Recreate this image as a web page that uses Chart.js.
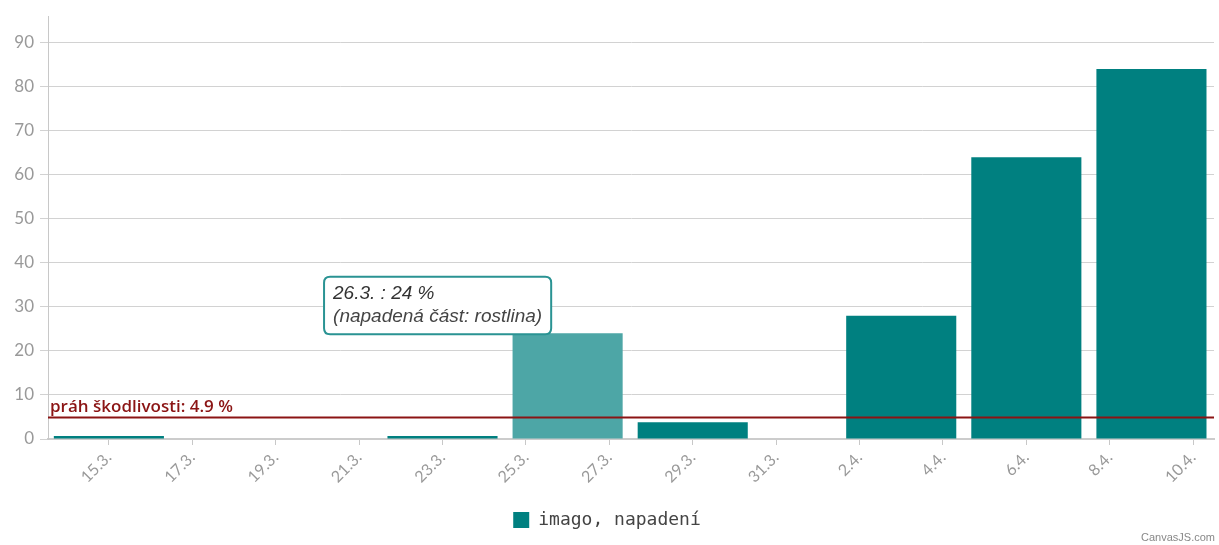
<!DOCTYPE html>
<html>
<head>
<meta charset="utf-8">
<script src="https://cdn.jsdelivr.net/npm/chart.js@4.4.0/dist/chart.umd.min.js"></script>
<style>
  html, body { margin: 0; padding: 0; background: #fff; }
  #wrap { position: relative; width: 1219px; height: 545px; }
  #credit { position: absolute; right: 4px; bottom: 2px; font: 11px "Liberation Sans", sans-serif; color: #888; }
</style>
</head>
<body>
<div id="wrap">
  <canvas id="chart" width="1219" height="545"></canvas>
  <div id="credit">CanvasJS.com</div>
</div>
<script>
// data
const dates = ['15.3.', '23.3.', '26.3.', '29.3.', '3.4.', '6.4.', '9.4.'];
const values = [0, 0, 24, 3.8, 28, 64, 84];
const tickLabels = ['15.3.', '17.3.', '19.3.', '21.3.', '23.3.', '25.3.', '27.3.',
  '29.3.', '31.3.', '2.4.', '4.4.', '6.4.', '8.4.', '10.4.'];
const seriesName = 'imago, napadení';
const threshold = 4.9;
const thresholdLabel = 'práh škodlivosti: 4.9 %';
const hoverIndex = 2; // bar shown with tooltip (26.3.)
const tooltipNote = '(napadená část: rostlina)';

const TEAL = '#008080';
const TEAL_HOVER = '#4da6a6';
const DARKRED = '#8b1414';

// day number counted from the first tick
function toDay(s) {
  const [d, m] = s.split('.').map(Number);
  return Math.round((Date.UTC(2021, m - 1, d) - Date.UTC(2021, 2, 15)) / 86400000);
}

const points = dates.map((d, i) => ({ x: toDay(d), y: values[i] }));
const tickDays = tickLabels.map(toDay);

// threshold line drawn over the bars
const thresholdPlugin = {
  id: 'threshold',
  afterDatasetsDraw(chart) {
    const { ctx, chartArea, scales } = chart;
    const y = scales.y.getPixelForValue(threshold);
    ctx.save();
    ctx.strokeStyle = DARKRED;
    ctx.lineWidth = 2;
    ctx.beginPath();
    ctx.moveTo(chartArea.left, y);
    ctx.lineTo(chartArea.right, y);
    ctx.stroke();
    ctx.fillStyle = DARKRED;
    ctx.font = '600 17px "Open Sans", sans-serif';
    ctx.textBaseline = 'bottom';
    ctx.fillText(thresholdLabel, chartArea.left + 2, y - 2);
    ctx.restore();
  }
};

Chart.Tooltip.positioners.leftOfBar = function (items) {
  if (!items.length) return false;
  const el = items[0].element;
  return { x: el.x - 130, y: el.y + 1 };
};

const chart = new Chart(document.getElementById('chart'), {
  type: 'bar',
  data: {
    datasets: [{
      label: seriesName,
      data: points,
      backgroundColor: values.map((_, i) => i === hoverIndex ? TEAL_HOVER : TEAL),
      borderWidth: 0,
      minBarLength: 3,
      categoryPercentage: 1,
      barPercentage: 1.32
    }]
  },
  options: {
    responsive: false,
    animation: false,
    events: [],
    layout: { padding: { top: 6, right: 5, left: 0, bottom: 6 } },
    scales: {
      x: {
        type: 'linear',
        offset: false,
        min: tickDays[0] - 1.46,
        max: tickDays[tickDays.length - 1] + 0.5,
        afterBuildTicks: (scale) => { scale.ticks = tickDays.map(v => ({ value: v })); },
        afterFit: (scale) => { scale.height = 62; },
        grid: { offset: false, drawOnChartArea: false, drawTicks: true, tickLength: 6, color: '#c8c8c8' },
        border: { display: true, color: '#cccccc', width: 2 },
        ticks: {
          autoSkip: false,
          minRotation: 45,
          maxRotation: 45,
          padding: 3,
          color: '#999',
          font: { family: 'Lato, sans-serif', size: 16 },
          callback: (v, i) => tickLabels[i]
        }
      },
      y: {
        min: 0,
        max: 96,
        afterFit: (scale) => { scale.width = 48; },
        grid: { color: '#d2d2d2', lineWidth: 1, drawTicks: true, tickLength: 8 },
        border: { display: true, color: '#c8c8c8', width: 1 },
        ticks: {
          stepSize: 10,
          includeBounds: false,
          padding: 6,
          color: '#999',
          font: { family: 'Lato, sans-serif', size: 17 }
        }
      }
    },
    plugins: {
      legend: {
        position: 'bottom',
        labels: {
          boxWidth: 16,
          boxHeight: 16,
          padding: 10,
          color: '#444',
          font: { family: '"DejaVu Sans Mono", monospace', size: 18 }
        }
      },
      tooltip: {
        animation: false,
        position: 'leftOfBar',
        xAlign: 'center',
        yAlign: 'bottom',
        caretSize: 0,
        caretPadding: 0,
        backgroundColor: '#fff',
        borderColor: '#2a9393',
        borderWidth: 2,
        cornerRadius: 6,
        padding: { left: 9, right: 9, top: 6, bottom: 6 },
        displayColors: false,
        titleColor: '#333',
        bodyColor: '#444',
        titleFont: { family: '"Liberation Sans", Arial, sans-serif', size: 19, style: 'italic', weight: 'normal' },
        bodyFont: { family: '"Liberation Sans", Arial, sans-serif', size: 19, style: 'italic', weight: 'normal' },
        titleMarginBottom: 0,
        callbacks: {
          title: (items) => dates[items[0].dataIndex] + ' : ' + values[items[0].dataIndex] + ' %',
          label: () => tooltipNote
        }
      }
    }
  },
  plugins: [thresholdPlugin]
});

chart.tooltip.setActiveElements([{ datasetIndex: 0, index: hoverIndex }], { x: 0, y: 0 });
chart.update();
</script>
</body>
</html>
